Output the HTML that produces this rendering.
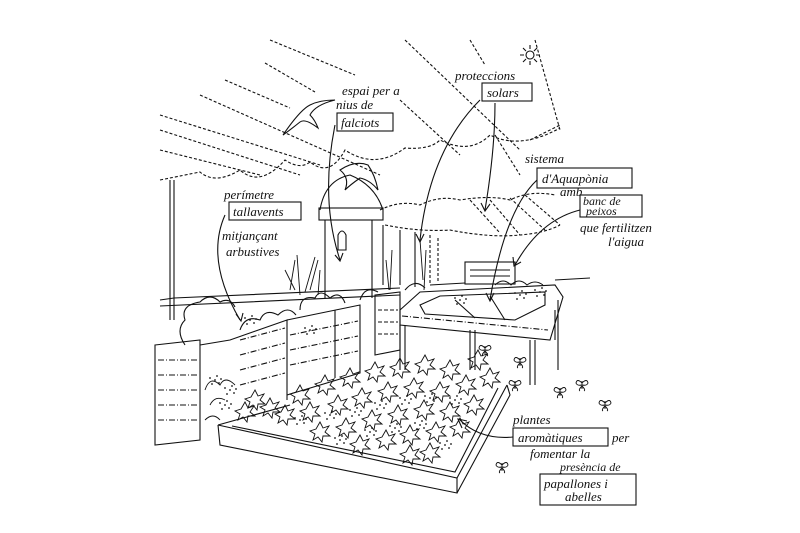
<!DOCTYPE html>
<html><head><meta charset="utf-8"><style>
html,body{margin:0;padding:0;background:#fff;width:800px;height:533px;overflow:hidden}
svg{display:block}
text{font-family:"Liberation Serif",serif;font-style:italic;font-size:13px;fill:#111}
</style></head><body>
<svg width="800" height="533" viewBox="0 0 800 533" xmlns="http://www.w3.org/2000/svg">
<defs>
<path id="st" d="M0 -10 L3 -4 L9 -6 L5 0 L10 4 L3 4 L2 10 L-2 5 L-7 8 L-5 2 L-10 -1 L-4 -3 Z" fill="none" stroke="#111" stroke-width="0.9"/>
<g id="dt" fill="#111"><circle cx="0" cy="0" r="0.9"/><circle cx="4" cy="3" r="0.9"/><circle cx="-3" cy="4" r="0.9"/><circle cx="2" cy="-4" r="0.9"/><circle cx="-5" cy="-2" r="0.9"/><circle cx="6" cy="-1" r="0.9"/></g>
<g id="bf" fill="none" stroke="#111" stroke-width="0.9"><path d="M0 -4 v8 M0 -2 q-5 -5 -6 0 q1 3 6 2 M0 -2 q5 -5 6 0 q-1 3 -6 2 M0 1 q-4 4 -2 5 M0 1 q4 4 2 5"/></g>
</defs>
<g fill="none" stroke="#111" stroke-width="1.1">
<g stroke-dasharray="3,2">
<line x1="270" y1="40" x2="355" y2="75"/>
<line x1="265" y1="63" x2="315" y2="92"/>
<line x1="225" y1="80" x2="290" y2="108"/>
<line x1="200" y1="95" x2="380" y2="175"/>
<line x1="160" y1="115" x2="320" y2="165"/>
<line x1="160" y1="130" x2="300" y2="175"/>
<line x1="160" y1="150" x2="260" y2="175"/>
<line x1="405" y1="40" x2="520" y2="150"/>
<line x1="470" y1="40" x2="485" y2="65"/>
<line x1="535" y1="40" x2="560" y2="130"/>
<line x1="400" y1="100" x2="460" y2="155"/>
<line x1="495" y1="135" x2="520" y2="175"/>
<path d="M160 180 Q185 175 200 172 Q215 185 240 170 Q260 188 285 160 Q300 170 310 162 Q330 178 345 150 Q375 170 405 148 Q430 150 440 140 Q470 155 490 135 Q520 150 560 128"/>
<path d="M380 210 Q400 200 420 205 Q440 195 460 200 Q490 195 510 200 Q530 190 555 195"/>
<path d="M385 225 Q420 232 450 230 Q490 238 520 235 Q545 233 560 225"/>
<line x1="525" y1="195" x2="560" y2="225"/>
<line x1="510" y1="198" x2="545" y2="230"/>
<line x1="490" y1="200" x2="520" y2="235"/>
<line x1="470" y1="200" x2="500" y2="233"/>
<line x1="530" y1="140" x2="560" y2="125"/>
<path d="M430 235v50M438 238v45"/>
</g>
<circle cx="530" cy="55" r="4"/>
<path d="M530 45v4M530 61v4M520 55h4M536 55h4M523 48l3 3M534 59l3 3M537 48l-3 3M523 62l3-3"/>
<path d="M283 135 Q300 110 310 105 Q320 100 335 100 Q315 105 310 115 Q315 120 318 128 Q305 118 300 122 Q290 130 283 135Z"/>
<path d="M340 170 Q355 160 368 165 Q375 175 378 190 Q370 180 360 178 Q350 185 345 190 Q350 178 340 170Z"/>
<line x1="170" y1="180" x2="170" y2="320"/><line x1="174" y1="180" x2="174" y2="320"/>
<path d="M160 300 L174 298 L400 288 M160 306 L400 295"/>
<path d="M430 285 L465 283 M555 280 L590 278"/>
<path d="M320 210 Q325 180 350 175 Q375 185 383 210"/>
<rect x="319" y="208" width="64" height="12"/>
<path d="M325 220v78M372 220v78"/>
<path d="M338 235 q4-8 8 0v15h-8z"/>
<path d="M383 225v60M400 230v55M415 232v55"/>
<path d="M155 345 L200 340 L200 440 L155 445Z"/>
<g stroke-dasharray="6,2,1,2"><path d="M158 360h40M158 375h40M158 390h40M158 405h40M158 420h40"/></g>
<path d="M200 345 L230 340 L287 320 L287 400"/>
<g stroke-dasharray="6,2,1,2"><path d="M240 340l45-12M240 355l45-12M240 370l45-12M240 385l45-12"/></g>
<path d="M287 320 L360 305 L360 373 L287 395"/>
<path d="M335 310 V378"/>
<g stroke-dasharray="6,2,1,2"><path d="M290 335l68-14M290 350l68-14M290 365l68-14"/></g>
<path d="M375 295 L400 292 L400 350 L375 355Z"/>
<g stroke-dasharray="4,2"><path d="M378 310h20M378 322h20M378 334h20"/></g>
<path d="M185 345 q-10-15 0-25 q-5-15 15-18 q10-10 20 0 q10-5 15 5 M240 330 q5-15 20-10 q5-12 18-5 q10-10 18 0 M300 310 q0-15 15-12 q5-10 15 0 q10-8 15 5 M360 300 q5-15 18-8 M405 290 q10-12 20-2"/>
<path d="M218 425 L457 478 L507 385"/>
<path d="M218 425 L220 445 L457 493 L457 478"/>
<path d="M457 493 L510 395 L507 385"/>
<path d="M232 426 L455 472 L498 388"/>
<path d="M218 425 L290 405"/>
<path d="M400 310 L420 292 L555 285 L563 297 L550 340 L400 325Z"/>
<path d="M420 305 L440 296 L545 292 L545 305 L515 320 L425 314Z"/>
<path d="M455 300 L475 318M490 296 L505 320"/>
<g stroke-dasharray="6,2,1,2"><path d="M402 316 L548 330"/></g>
<path d="M400 325v45M405 325v45M530 340v45M535 340v45M470 330v40M475 330v40M555 310v30M558 300v70"/>
<rect x="465" y="262" width="50" height="22"/>
<path d="M470 270h40M470 276h40"/>
<g stroke-width="0.9">
<path d="M290 290 l5-30 M300 295 l-3-40 M310 290 l8-30 M318 295 l2-25 M295 290 l-10-20 M305 292 l10-35"/>
<path d="M386 260 l3 30 M392 250 l-2 40 M420 240 l3 40 M426 250 l-2 40"/>
<path d="M495 285 q8-8 16 0 q8-8 16 0 q8 -6 16 0"/>
<path d="M205 390 q5-15 15-5 q5-10 15 0 M210 405 q5-10 15-5 M205 420 q8-8 15 0"/>
</g>
<path d="M335 125 Q320 200 340 260"/><path d="M335 255 l5 6 l3-8"/>
<path d="M480 100 Q430 150 420 240"/><path d="M416 234 l4 8 l4-8"/>
<path d="M495 103 Q495 150 485 210"/><path d="M481 203 l4 8 l5-7"/>
<path d="M537 180 Q505 210 490 300"/><path d="M486 293 l4 8 l4-8"/>
<path d="M580 210 Q540 220 515 265"/><path d="M513 257 l1 9 l7-4"/>
<path d="M225 215 Q205 260 240 320"/><path d="M236 314 l5 7 l2-8"/>
<path d="M513 437 Q480 440 460 420"/><path d="M462 428 l-4 -9 l9 2"/>
<rect x="337" y="113" width="56" height="18"/>
<rect x="482" y="83" width="50" height="18"/>
<rect x="537" y="168" width="95" height="20"/>
<rect x="580" y="195" width="62" height="22"/>
<rect x="229" y="202" width="72" height="18"/>
<rect x="513" y="428" width="95" height="18"/>
<rect x="540" y="474" width="96" height="31"/>
</g>
<g>
<use href="#st" x="300" y="395"/><use href="#st" x="325" y="385"/><use href="#st" x="350" y="378"/><use href="#st" x="375" y="372"/><use href="#st" x="400" y="368"/><use href="#st" x="425" y="365"/><use href="#st" x="450" y="370"/><use href="#st" x="478" y="360"/>
<use href="#st" x="285" y="415"/><use href="#st" x="310" y="412"/><use href="#st" x="338" y="405"/><use href="#st" x="362" y="398"/><use href="#st" x="388" y="392"/><use href="#st" x="414" y="388"/><use href="#st" x="440" y="392"/><use href="#st" x="466" y="385"/><use href="#st" x="490" y="378"/>
<use href="#st" x="320" y="432"/><use href="#st" x="346" y="428"/><use href="#st" x="372" y="420"/><use href="#st" x="398" y="415"/><use href="#st" x="424" y="410"/><use href="#st" x="450" y="412"/><use href="#st" x="474" y="405"/>
<use href="#st" x="360" y="445"/><use href="#st" x="386" y="440"/><use href="#st" x="410" y="435"/><use href="#st" x="436" y="432"/><use href="#st" x="460" y="428"/><use href="#st" x="410" y="455"/><use href="#st" x="430" y="453"/>
<use href="#st" x="270" y="408"/><use href="#st" x="255" y="400"/><use href="#st" x="245" y="412"/>
<use href="#dt" x="300" y="420"/><use href="#dt" x="330" y="415"/><use href="#dt" x="355" y="412"/><use href="#dt" x="380" y="405"/><use href="#dt" x="405" y="400"/><use href="#dt" x="430" y="398"/><use href="#dt" x="455" y="400"/><use href="#dt" x="340" y="440"/><use href="#dt" x="370" y="432"/><use href="#dt" x="395" y="428"/><use href="#dt" x="420" y="425"/><use href="#dt" x="445" y="445"/><use href="#dt" x="230" y="390"/><use href="#dt" x="215" y="380"/><use href="#dt" x="225" y="405"/><use href="#dt" x="460" y="300"/><use href="#dt" x="520" y="295"/><use href="#dt" x="540" y="292"/><use href="#dt" x="250" y="320"/><use href="#dt" x="310" y="330"/>
<use href="#bf" x="485" y="350"/><use href="#bf" x="515" y="385"/><use href="#bf" x="560" y="392"/><use href="#bf" x="582" y="385"/><use href="#bf" x="605" y="405"/><use href="#bf" x="502" y="467"/><use href="#bf" x="520" y="362"/>
</g>
<text x="342" y="95">espai per a</text>
<text x="336" y="109">nius de</text>
<text x="341" y="127">falciots</text>
<text x="455" y="80">proteccions</text>
<text x="487" y="97">solars</text>
<text x="525" y="163">sistema</text>
<text x="542" y="183">d'Aquapònia</text>
<text x="560" y="196">amb</text>
<text x="583" y="205" style="font-size:12px">banc de</text>
<text x="586" y="215" style="font-size:12px">peixos</text>
<text x="580" y="232">que fertilitzen</text>
<text x="608" y="246">l'aigua</text>
<text x="224" y="199">perímetre</text>
<text x="233" y="216">tallavents</text>
<text x="222" y="240">mitjançant</text>
<text x="226" y="256">arbustives</text>
<text x="513" y="424">plantes</text>
<text x="518" y="442">aromàtiques</text>
<text x="612" y="442">per</text>
<text x="530" y="458">fomentar la</text>
<text x="560" y="471" style="font-size:12px">presència de</text>
<text x="544" y="488">papallones i</text>
<text x="565" y="501">abelles</text>
</svg>
</body></html>
